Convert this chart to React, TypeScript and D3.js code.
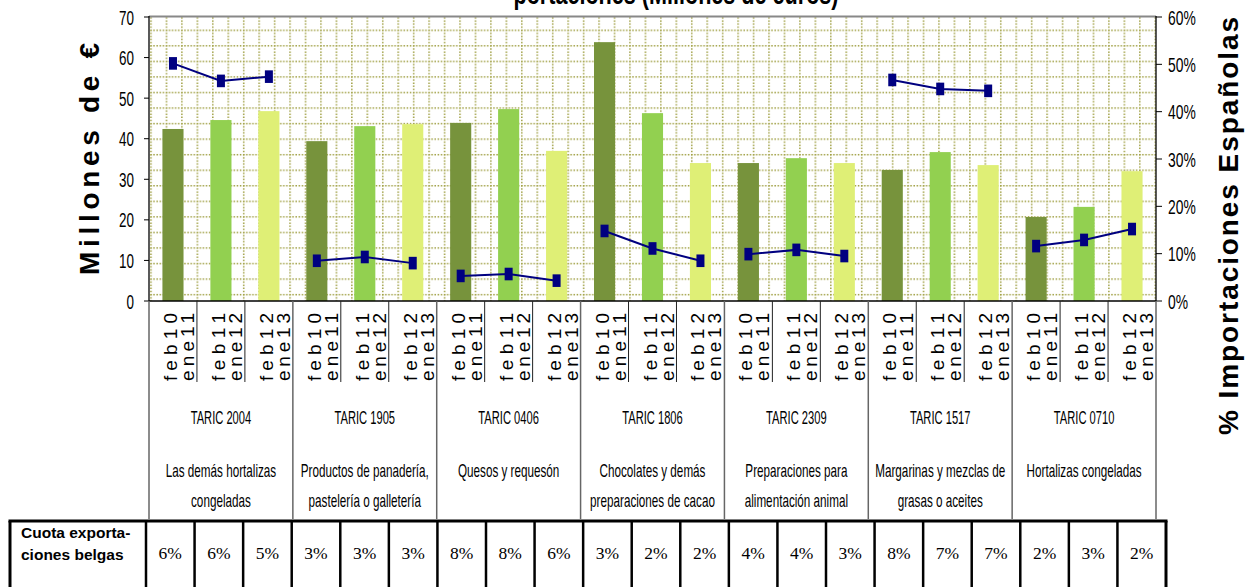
import React from "react";
import * as d3 from "d3";

// ---------- data ----------
const groupCodes = ["TARIC 2004", "TARIC 1905", "TARIC 0406", "TARIC 1806", "TARIC 2309", "TARIC 1517", "TARIC 0710"];
const groupNames = [
  ["Las demás hortalizas", "congeladas"],
  ["Productos de panadería,", "pastelería o galletería"],
  ["Quesos y requesón"],
  ["Chocolates y demás", "preparaciones de cacao"],
  ["Preparaciones para", "alimentación animal"],
  ["Margarinas y mezclas de", "grasas o aceites"],
  ["Hortalizas congeladas"],
];
const periodStart = ["feb10", "feb11", "feb12"];
const periodEnd = ["ene11", "ene12", "ene13"];
// Millones de € (barras)
const importValues = [
  42.4, 44.6, 46.8,
  39.4, 43.1, 43.6,
  43.9, 47.3, 37.0,
  63.8, 46.3, 34.0,
  34.0, 35.2, 34.0,
  32.3, 36.7, 33.5,
  20.7, 23.2, 32.0,
];
// % Importaciones Españolas (línea)
const spainShare = [
  0.502, 0.465, 0.474,
  0.085, 0.093, 0.080,
  0.053, 0.057, 0.043,
  0.148, 0.111, 0.085,
  0.099, 0.108, 0.095,
  0.467, 0.448, 0.444,
  0.116, 0.129, 0.152,
];
const belgianShare = ["6%", "6%", "5%", "3%", "3%", "3%", "8%", "8%", "6%", "3%", "2%", "2%", "4%", "4%", "3%", "8%", "7%", "7%", "2%", "3%", "2%"];
const leftTicks = [0, 10, 20, 30, 40, 50, 60, 70];
const rightTicks = [0, 0.1, 0.2, 0.3, 0.4, 0.5, 0.6];

const barColors = ["#77933C", "#92D050", "#DFEF76"];

const W = 1253, H = 587;
const L = 149, R = 1156, T = 17, B = 301;
const SANS = "'Liberation Sans', Arial, sans-serif";
const SERIF = "'Liberation Serif', 'Times New Roman', serif";

function HText({ x, y, sx = 0.65, anchor = "middle", size = 18, weight = "normal", family = SANS, children }: any) {
  return (
    <text transform={`translate(${x},${y}) scale(${sx},1)`} textAnchor={anchor} fontSize={size} fontWeight={weight} fontFamily={family} fill="#000">
      {children}
    </text>
  );
}

export default function App() {
  const n = importValues.length;
  const x = d3.scaleBand<number>().domain(d3.range(n)).range([L, R]).paddingInner(0).paddingOuter(0);
  const bw = x.bandwidth();
  const barW = bw * 0.44;
  const yL = d3.scaleLinear().domain([0, 70]).range([B, T]);
  const yR = d3.scaleLinear().domain([0, 0.6]).range([B, T]);
  const pct = d3.format(".0%");
  const cx = (i: number) => (x(i) as number) + bw / 2;
  const line = d3.line<number>().x((i) => cx(i)).y((i) => yR(spainShare[i]));

  const groups = d3.range(groupCodes.length);
  const tableL = 10, tableLabelR = 146, tableR = 1166, tableT = 521;
  const cellW = (tableR - tableLabelR) / n;

  return (
    <svg width={W} height={H} style={{ position: "absolute", left: 0, top: 0, background: "#fff" }}>
      <defs>
        <pattern id="dotgrid" patternUnits="userSpaceOnUse" x={150.2} y={14.0} width={15.45} height={15.55}>
          <line x1={0.8} y1={0} x2={0.8} y2={15.55} stroke="#9e9e40" strokeWidth={1.5} strokeDasharray="1.5 1.6" />
          <line x1={0} y1={0.8} x2={15.45} y2={0.8} stroke="#9e9e40" strokeWidth={1.5} strokeDasharray="1.5 1.6" />
        </pattern>
        <clipPath id="plotclip"><rect x={L} y={T} width={R - L} height={B - T} /></clipPath>
      </defs>

      {/* title (partially cut off at top) */}
      <HText x={676} y={4} size={30} weight="bold" sx={0.72}>portaciones (Millones de euros)</HText>

      {/* plot background */}
      <rect x={L} y={T} width={R - L} height={B - T} fill="#fff" />
      <rect x={L} y={T} width={R - L} height={B - T} fill="url(#dotgrid)" clipPath="url(#plotclip)" />
      <line x1={L} x2={R} y1={T - 0.5} y2={T - 0.5} stroke="#888" strokeWidth={2} />

      {/* bars */}
      {importValues.map((v, i) => (
        <rect key={"b" + i} x={cx(i) - barW / 2} y={yL(v)} width={barW} height={B - yL(v)} fill={barColors[i % 3]} />
      ))}

      {/* line series per group */}
      {groups.map((g) => (
        <path key={"l" + g} d={line([g * 3, g * 3 + 1, g * 3 + 2]) as string} fill="none" stroke="#000080" strokeWidth={2} />
      ))}
      {spainShare.map((v, i) => (
        <rect key={"m" + i} x={cx(i) - 4} y={yR(v) - 6.3} width={8} height={12.6} fill="#000080" />
      ))}

      {/* axes */}
      <line x1={L} x2={L} y1={T - 1} y2={B} stroke="#000" strokeWidth={1.3} />
      <line x1={R} x2={R} y1={T - 1} y2={B} stroke="#000" strokeWidth={1.3} />
      <line x1={L} x2={R} y1={B} y2={B} stroke="#000" strokeWidth={1.5} />
      {leftTicks.map((t) => (
        <g key={"lt" + t}>
          <line x1={L - 5} x2={L} y1={yL(t)} y2={yL(t)} stroke="#000" strokeWidth={1} />
          <HText x={134} y={yL(t) + 7.5} anchor="end" size={21} sx={0.64}>{t}</HText>
        </g>
      ))}
      {rightTicks.map((t) => (
        <g key={"rt" + t}>
          <line x1={R} x2={R + 6} y1={yR(t)} y2={yR(t)} stroke="#000" strokeWidth={1} />
          <HText x={1168} y={yR(t) + 7.5} anchor="start" size={21} sx={0.66}>{pct(t)}</HText>
        </g>
      ))}

      {/* axis titles */}
      <text transform={`translate(99,159) rotate(-90)`} textAnchor="middle" fontSize={28} fontWeight="bold" fontFamily={SANS} textLength={232} lengthAdjust="spacing">Millones de €</text>
      <text transform={`translate(1238,226) rotate(-90)`} textAnchor="middle" fontSize={28} fontWeight="bold" fontFamily={SANS} textLength={418} lengthAdjust="spacing">% Importaciones Españolas</text>

      {/* category axis: slot separators and labels */}
      {d3.range(n + 1).map((i) => {
        const xx = i < n ? (x(i) as number) : R;
        const isGroup = i % 3 === 0;
        return <line key={"s" + i} x1={xx} x2={xx} y1={B} y2={isGroup ? tableT - 2 : 382} stroke={isGroup ? "#666" : "#222"} strokeWidth={isGroup ? 1.5 : 1} />;
      })}
      {importValues.map((_, i) => (
        <g key={"sl" + i}>
          <text transform={`translate(${cx(i) + 4},381) rotate(-90)`} fontSize={19} fontFamily={SANS} textLength={68} lengthAdjust="spacing">{periodStart[i % 3]}</text>
          <text transform={`translate(${cx(i) + 21},381) rotate(-90)`} fontSize={19} fontFamily={SANS} textLength={68} lengthAdjust="spacing">{periodEnd[i % 3]}</text>
        </g>
      ))}
      {groups.map((g) => {
        const gx = ((x(g * 3) as number) + (g * 3 + 3 < n ? (x(g * 3 + 3) as number) : R)) / 2;
        return (
          <g key={"g" + g}>
            <HText x={gx} y={424} size={18} sx={0.62}>{groupCodes[g]}</HText>
            {groupNames[g].map((s, k) => (
              <HText key={k} x={gx} y={477 + k * 30} size={18} sx={0.65}>{s}</HText>
            ))}
          </g>
        );
      })}

      {/* table */}
      <line x1={tableL - 1.5} x2={tableR + 1.5} y1={tableT} y2={tableT} stroke="#000" strokeWidth={3} />
      <line x1={tableL} x2={tableL} y1={tableT} y2={H + 5} stroke="#000" strokeWidth={3} />
      {d3.range(n + 1).map((i) => (
        <line key={"tc" + i} x1={tableLabelR + i * cellW} x2={tableLabelR + i * cellW} y1={tableT} y2={H + 5} stroke="#000" strokeWidth={i === n ? 3 : 2.5} />
      ))}
      <text x={21} y={538} fontSize={15.5} fontWeight="bold" fontFamily={SANS}>Cuota exporta-</text>
      <text x={21} y={560} fontSize={15.5} fontWeight="bold" fontFamily={SANS}>ciones belgas</text>
      {belgianShare.map((s, i) => (
        <text key={"ts" + i} x={tableLabelR + (i + 0.5) * cellW} y={559} textAnchor="middle" fontSize={17.5} fontFamily={SERIF}>{s}</text>
      ))}
    </svg>
  );
}
